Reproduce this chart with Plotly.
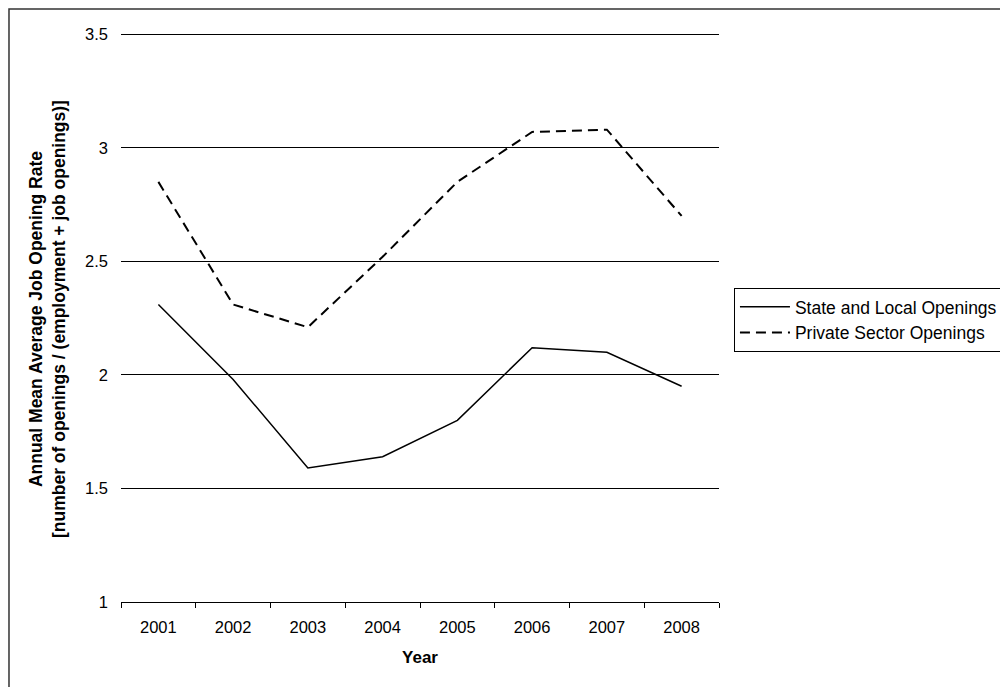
import plotly.graph_objects as go

years = ["2001", "2002", "2003", "2004", "2005", "2006", "2007", "2008"]
state_local = [2.31, 1.98, 1.59, 1.64, 1.80, 2.12, 2.10, 1.95]
private_sector = [2.85, 2.31, 2.21, 2.52, 2.85, 3.07, 3.08, 2.70]
y_ticks = [1, 1.5, 2, 2.5, 3, 3.5]

FONT = "Liberation Sans, Arial, sans-serif"

fig = go.Figure()
fig.add_trace(go.Scatter(x=years, y=state_local, mode="lines", name="State and Local Openings",
                         line=dict(color="black", width=1.5)))
fig.add_trace(go.Scatter(x=years, y=private_sector, mode="lines", name="Private Sector Openings",
                         line=dict(color="black", width=2, dash="10px,6px")))

# page body adds an 8px offset, so margins are shifted to compensate
fig.update_layout(
    width=1008, height=687,
    margin=dict(l=113, r=297, t=24, b=93, autoexpand=False),
    paper_bgcolor="white", plot_bgcolor="white",
    font=dict(family=FONT, size=16.5, color="black"),
    showlegend=True,
    legend=dict(x=1.025, y=0.551, xanchor="left", yanchor="top",
                bordercolor="black", borderwidth=1, bgcolor="white",
                font=dict(size=17.5), itemwidth=50, tracegroupgap=0),
    xaxis=dict(type="category", range=[-0.5, 7.5], showline=True, linecolor="black", linewidth=1,
               ticks="outside", tickson="boundaries", ticklen=5, tickcolor="black",
               showgrid=False, ticklabelstandoff=10, automargin=False,
               title=dict(text="<b>Year</b>", font=dict(size=17), standoff=16)),
    yaxis=dict(range=[1, 3.51], tickvals=y_ticks, ticktext=[f"{v:g}" for v in y_ticks],
               showgrid=True, gridcolor="black", gridwidth=1, zeroline=False, automargin=False,
               showline=False, ticks="", ticklabelstandoff=12),
    annotations=[dict(
        text="<b>Annual Mean Average Job Opening Rate<br>[number of openings / (employment + job openings)]</b>",
        xref="paper", yref="paper", x=-0.122, y=0.4965, xanchor="center", yanchor="middle",
        textangle=-90, showarrow=False, font=dict(size=17.5))],
    shapes=[dict(type="rect", xref="paper", yref="paper",
                 x0=-0.1873, y0=-0.2, x1=1.5, y1=1.0404,
                 line=dict(color="#333333", width=1.5))],
)

fig.write_html("out.html")
